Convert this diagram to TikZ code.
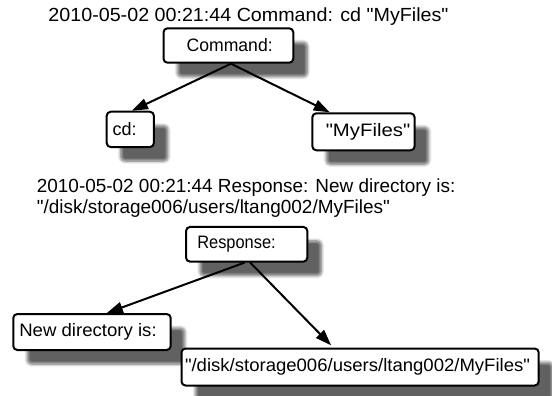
\documentclass[tikz,border=0pt]{standalone}
\usepackage{fontspec}
\usepackage{graphicx}
\setmainfont{Liberation Sans}[Ligatures=TeXOff]
\usetikzlibrary{arrows.meta,shadows.blur}
\newcommand{\fitw}[2]{\resizebox{#1}{\height}{#2}}
\begin{document}
\begin{tikzpicture}[x=1pt,y=-1pt,
  box/.style={draw=black, line width=2pt, rounded corners=4pt, fill=white,
    inner sep=0pt, font=\fontsize{18}{20}\selectfont,
    blur shadow={shadow xshift=14pt, shadow yshift=-14pt, shadow blur steps=6,
      shadow blur radius=3pt, shadow opacity=62}},
  title/.style={anchor=base west, inner sep=0pt, font=\fontsize{19}{21}\selectfont},
  arr/.style={line width=2pt, -{Triangle[length=16pt,width=11pt]}}]
\useasboundingbox (0,0) rectangle (552,396);
\node[title] (t1) at (48.3,21.7) {\fitw{400pt}{2010-05-02 00:21:44 Command: cd "MyFiles"}};
\node[title] (t2) at (36.7,192.7) {\fitw{418.6pt}{2010-05-02 00:21:44 Response: New directory is:}};
\node[title] (t3) at (36.7,213.8) {\fitw{353pt}{"/disk/storage006/users/ltang002/MyFiles"}};

\node[box, minimum width=129.8pt, minimum height=34.4pt] (cmd) at (228.4,45.5)
  {\hspace*{2.6pt}\fitw{86pt}{Command:}};
\node[box, minimum width=47.2pt, minimum height=35.3pt] (cd) at (130.3,129.4)
  {\fitw{24pt}{cd:}\hspace*{11.2pt}};
\node[box, minimum width=102.3pt, minimum height=37pt] (myf) at (363.5,131.8)
  {\hspace*{9pt}\fitw{84.5pt}{"MyFiles"}};

\node[box, minimum width=121.3pt, minimum height=34.7pt] (resp) at (246.7,244.3)
  {\fitw{78.4pt}{Response:}\hspace*{20.4pt}};
\node[box, minimum width=157.4pt, minimum height=36pt] (nd) at (92,332)
  {\fitw{137.4pt}{New directory is:}\hspace*{8pt}};
\node[box, minimum width=357.2pt, minimum height=37pt] (path) at (360.1,367)
  {\fitw{345pt}{"/disk/storage006/users/ltang002/MyFiles"}\hspace*{5.2pt}};

\draw[arr] (cmd.-82) -- (cd.85);
\draw[arr] (cmd.-82) -- (myf.150);
\draw[arr] (resp.-97) -- (nd.52);
\draw[arr, shorten >=3pt] (resp.-79) -- (path.144);
\end{tikzpicture}
\end{document}
